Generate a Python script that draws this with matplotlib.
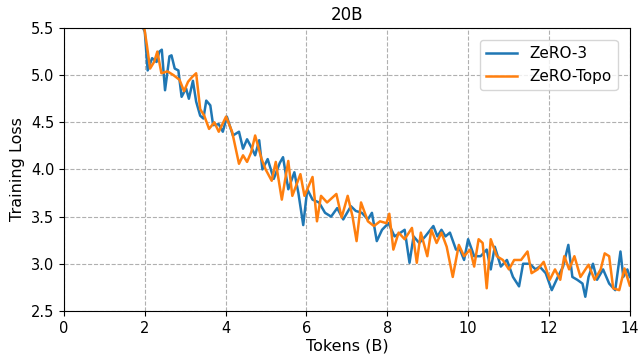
import matplotlib
matplotlib.use("Agg")
import matplotlib.pyplot as plt

zero3_x = [1.8, 2.0, 2.07, 2.18, 2.29, 2.36, 2.42, 2.5, 2.61, 2.66, 2.74, 2.83, 2.91, 3.02, 3.09, 3.19,
           3.27, 3.37, 3.45, 3.52, 3.62, 3.69, 3.83, 3.93, 4.03, 4.18, 4.33, 4.43, 4.53, 4.63, 4.73, 4.83,
           4.91, 5.04, 5.19, 5.34, 5.42, 5.55, 5.70, 5.80, 5.92, 6.02, 6.15, 6.31, 6.46, 6.61, 6.76, 6.91,
           7.1, 7.22, 7.37, 7.52, 7.62, 7.74, 7.87, 8.03, 8.18, 8.33, 8.43, 8.55, 8.65, 8.79, 8.94, 9.14,
           9.24, 9.34, 9.44, 9.55, 9.7, 9.8, 9.9, 10.0, 10.15, 10.31, 10.46, 10.56, 10.66, 10.81, 10.96,
           11.11, 11.26, 11.36, 11.52, 11.67, 11.77, 11.92, 12.07, 12.22, 12.35, 12.48, 12.58, 12.70, 12.83,
           12.9, 12.98, 13.09, 13.19, 13.34, 13.49, 13.64, 13.77, 13.84, 13.94, 14.0]
zero3_y = [5.65, 5.46, 5.05, 5.18, 5.14, 5.25, 5.27, 4.84, 5.20, 5.21, 5.07, 5.05, 4.77, 4.86, 4.75, 4.94,
           4.72, 4.57, 4.54, 4.73, 4.68, 4.47, 4.48, 4.40, 4.56, 4.36, 4.40, 4.22, 4.32, 4.24, 4.15, 4.31,
           4.00, 4.11, 3.90, 4.07, 4.13, 3.79, 3.97, 3.75, 3.41, 3.79, 3.68, 3.65, 3.54, 3.50, 3.59, 3.47,
           3.61, 3.56, 3.54, 3.47, 3.54, 3.24, 3.36, 3.43, 3.29, 3.33, 3.36, 3.01, 3.29, 3.22, 3.29, 3.40,
           3.29, 3.36, 3.29, 3.33, 3.15, 3.15, 3.04, 3.26, 3.08, 3.08, 3.15, 2.94, 3.18, 2.97, 3.04,
           2.86, 2.76, 3.00, 3.00, 2.94, 2.97, 2.90, 2.72, 2.86, 2.97, 3.20, 2.86, 2.83, 2.79,
           2.65, 2.86, 3.00, 2.83, 2.94, 2.79, 2.72, 3.13, 2.86, 2.94, 2.86]

topo_x = [1.95, 2.05, 2.13, 2.23, 2.31, 2.41, 2.56, 2.71, 2.86, 2.97, 3.07, 3.17, 3.27, 3.37, 3.47, 3.59,
          3.72, 3.83, 4.01, 4.16, 4.33, 4.43, 4.53, 4.63, 4.73, 4.89, 4.99, 5.14, 5.24, 5.39, 5.55, 5.65,
          5.85, 5.95, 6.15, 6.26, 6.36, 6.51, 6.74, 6.87, 7.02, 7.14, 7.24, 7.35, 7.52, 7.67, 7.82, 7.98,
          8.05, 8.15, 8.28, 8.43, 8.61, 8.73, 8.83, 8.99, 9.09, 9.22, 9.34, 9.47, 9.62, 9.77, 9.9, 10.05,
          10.15, 10.26, 10.36, 10.46, 10.56, 10.71, 10.86, 11.01, 11.14, 11.31, 11.47, 11.57, 11.72, 11.87,
          12.02, 12.15, 12.28, 12.38, 12.50, 12.63, 12.78, 12.98, 13.13, 13.28, 13.38, 13.49, 13.59, 13.74,
          13.87, 14.0]
topo_y = [5.6, 5.32, 5.07, 5.14, 5.25, 5.02, 5.04, 5.00, 4.95, 4.83, 4.93, 4.98, 5.02, 4.64, 4.57, 4.43,
          4.50, 4.40, 4.56, 4.40, 4.06, 4.15, 4.08, 4.18, 4.36, 4.11, 4.00, 3.88, 4.08, 3.68, 4.09, 3.72,
          3.95, 3.72, 3.92, 3.45, 3.72, 3.65, 3.74, 3.49, 3.72, 3.50, 3.24, 3.65, 3.45, 3.40, 3.45, 3.43,
          3.53, 3.15, 3.33, 3.26, 3.38, 3.01, 3.33, 3.08, 3.36, 3.22, 3.33, 3.18, 2.86, 3.20, 3.08, 3.15,
          2.97, 3.26, 3.22, 2.74, 3.26, 3.08, 3.04, 2.94, 3.04, 3.04, 3.13, 2.90, 2.94, 3.02,
          2.83, 2.94, 2.83, 3.08, 2.94, 3.08, 2.86, 2.99, 2.83, 2.94, 3.11, 3.08, 2.74, 2.72,
          2.95, 2.77]

x_ticks = [0, 2, 4, 6, 8, 10, 12, 14]
y_ticks = [2.5, 3.0, 3.5, 4.0, 4.5, 5.0, 5.5]

fig = plt.figure(figsize=(6.4, 3.59), dpi=100)
ax = fig.add_axes([0.1, 0.134, 0.884, 0.788])
ax.plot(zero3_x, zero3_y, color="#1f77b4", lw=1.8, label="ZeRO-3")
ax.plot(topo_x, topo_y, color="#ff7f0e", lw=1.8, label="ZeRO-Topo")
ax.set_xlim(0, 14)
ax.set_ylim(2.5, 5.5)
ax.set_xticks(x_ticks)
ax.set_yticks(y_ticks)
ax.set_yticklabels([f"{v:.1f}" for v in y_ticks])
ax.grid(True, linestyle="--", color="#b0b0b0", lw=0.8)
ax.set_axisbelow(True)
ax.tick_params(labelsize=10.5)
ax.set_xlabel("Tokens (B)", fontsize=11.5, labelpad=2)
ax.set_ylabel("Training Loss", fontsize=11.5)
ax.set_title("20B", fontsize=12)
ax.legend(loc="upper right", fontsize=11, handlelength=2.0, borderaxespad=0.8)
fig.savefig("out.png", dpi=100)
